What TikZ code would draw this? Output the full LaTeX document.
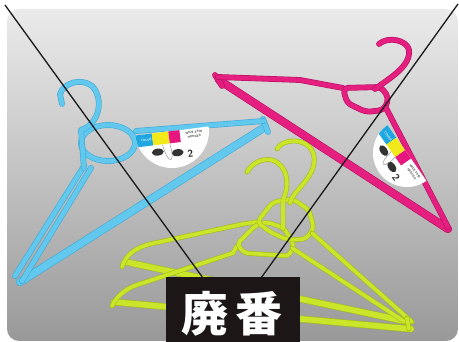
\documentclass[tikz,border=0pt]{standalone}
\usepackage{fontspec}
\newfontfamily\cjk{Noto Sans CJK JP}
\definecolor{hblue}{HTML}{62C8EE}
\definecolor{hblueD}{HTML}{3FAAD8}
\definecolor{hpink}{HTML}{E41F80}
\definecolor{hpinkD}{HTML}{B90F62}
\definecolor{hlime}{HTML}{CBE62A}
\definecolor{hlimeD}{HTML}{A3C014}
\definecolor{tagblue}{HTML}{1EA7E1}
\definecolor{tagyellow}{HTML}{F1E91A}
\definecolor{tagpink}{HTML}{E5177F}
\definecolor{labelbg}{HTML}{1C1616}
\tikzset{
  wire/.style={line cap=round, line join=round, line width=0.6pt},
  bluearm/.style={wire, draw=hblueD, double=hblue, double distance=4.6pt},
  bluebar/.style={bluearm, double distance=7pt},
  pinkarm/.style={wire, draw=hpinkD, double=hpink, double distance=4.6pt},
  pinkbar/.style={pinkarm, double distance=7pt},
  limearm/.style={wire, draw=hlimeD, double=hlime, double distance=3.6pt},
  limebar/.style={limearm, double distance=5.6pt},
  cross/.style={draw=black!90, line width=1.3pt},
  labelbox/.style={fill=labelbg, minimum width=134pt, minimum height=65pt, inner sep=0pt},
  labeltext/.style={text=white, inner sep=0pt, font=\cjk\bfseries\fontsize{47}{47}\selectfont},
  tagtext/.style={text=black!75, inner sep=0pt, align=center, transform shape,
    font=\sffamily\bfseries\fontsize{3}{4.2}\selectfont},
  tagnum/.style={text=black!85, inner sep=0pt, transform shape,
    font=\sffamily\bfseries\fontsize{10}{10}\selectfont}
}
% half-disc tag: name, centre, angle, radius
\newcommand{\hangtag}[4]{%
  \begin{scope}[shift={#2}, rotate=#3]
    \begin{scope}
      \clip (0,0) circle[radius=#4];
      \fill[white] (-#4,0) rectangle (#4,#4);
      \fill[tagblue] (-#4,0) rectangle (-0.55*#4,12);
      \fill[tagyellow] (-0.55*#4,0) rectangle (-0.1*#4,12);
      \fill[tagpink] (-0.1*#4,0) rectangle (0.2*#4,12);
    \end{scope}
    \node[tagtext, text=white] (#1-color) at (-0.72*#4,6) {COLOR};
    \node[tagtext] (#1-title) at (0.58*#4,6) {WIDE SPIN\\HANGER};
    \node[tagnum] (#1-num) at (0.42*#4,0.68*#4) {2};
    \fill[black!80] (-0.45*#4,0.52*#4) ellipse[x radius=6, y radius=3.5];
    \fill[black!80] (0.08*#4,0.6*#4) ellipse[x radius=6, y radius=3.5];
    \draw[black!40, line width=0.5pt] (-0.3*#4,0.35*#4) .. controls (-0.2*#4,0.95*#4) and (0,0.85*#4) .. (-0.1*#4,0.35*#4);
  \end{scope}}

\begin{document}
\begin{tikzpicture}[x=1pt, y=-1pt]
\useasboundingbox (0,0) rectangle (459,342);
% backdrop
\shade[rounded corners=12pt, top color=gray!16, bottom color=gray!80] (7,9) rectangle (458,341);
%
% blue hanger
\draw[bluebar] (20,282) -- (265,127);
\draw[bluearm] (263,119) -- (268,132);
\draw[bluearm] (264,121) -- (136,131);
\draw[bluearm] (108,143) ellipse[x radius=27, y radius=18];
\draw[bluearm] (84,166) -- (15,276);
\draw[bluearm] (91,168) -- (22,281);
\draw[bluearm] (84,168) -- (81,130) .. controls (100,124) and (104,98) .. (92,86)
  .. controls (82,78) and (64,82) .. (60,94) -- (62,104);
\hangtag{btag}{(172,131)}{7}{37}
%
% pink hanger
\draw[pinkbar] (219,80) -- (448,229);
\draw[pinkarm] (215,75) -- (222,86);
\draw[pinkarm] (218,77) -- (300,80) -- (343,88);
\draw[pinkarm, rounded corners=5pt] (343,88) -- (347,103) -- (366,112) -- (384,110) -- (389,98) -- (381,87) -- cycle;
\draw[pinkarm] (375,89) .. controls (390,78) and (411,66) .. (409,50)
  .. controls (407,40) and (388,36) .. (379,44);
\draw[pinkarm] (386,108) -- (448,227);
\hangtag{ptag}{(407,153)}{-55}{34}
%
% lime hangers
\draw[limebar] (126,262) -- (409,322);
\draw[limebar] (114,302) -- (411,329);
\draw[limearm] (122,267) .. controls (126,254) and (136,248) .. (150,244) -- (243,224) -- (257,222);
\draw[limearm] (112,306) .. controls (118,294) and (128,287) .. (143,283) -- (233,253) -- (237,246);
\draw[limearm, rounded corners=4pt] (237,244) -- (244,253) -- (289,256) -- (294,245) -- (284,228) -- (267,222) -- (256,225) -- cycle;
\draw[limearm, rounded corners=5pt] (257,222) -- (273,202) -- (293,199) -- (309,210) -- (314,228) -- (306,239) -- (288,240) -- (270,232) -- cycle;
\draw[limearm] (292,248) -- (405,322);
\draw[limearm] (312,233) -- (412,322);
\draw[limearm] (283,229) -- (283,200) .. controls (290,185) and (288,165) .. (272,160)
  .. controls (262,158) and (252,163) .. (247,172);
\draw[limearm] (290,203) .. controls (292,192) and (312,180) .. (314,163)
  .. controls (316,148) and (305,141) .. (294,141) .. controls (286,141) and (280,144) .. (277,149);
\draw[limearm] (407,318) -- (409,329);
%
% crossing-out lines and label
\coordinate (tl) at (5,5);
\coordinate (tr) at (458,4);
\coordinate (la) at (203,278);
\coordinate (ra) at (261,278);
\draw[cross] (tl) -- (la);
\draw[cross] (tr) -- (ra);
\node[labelbox] (ban) at (233,309.5) {};
\node[labeltext] (bantext) at (232,314) {廃\hspace{8pt}番};
\end{tikzpicture}
\end{document}
